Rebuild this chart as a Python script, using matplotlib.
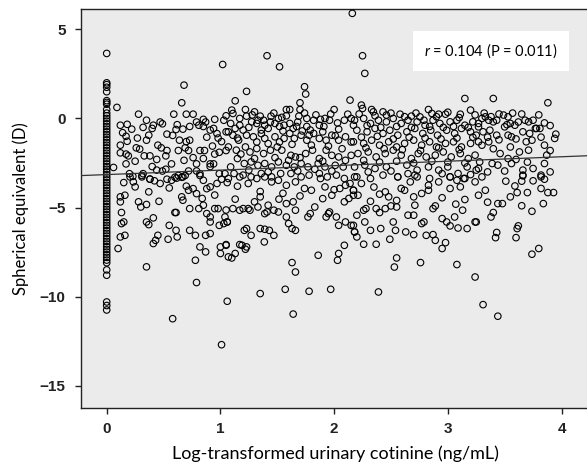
import numpy as np
import matplotlib
matplotlib.use("Agg")
import matplotlib.pyplot as plt

plt.rcParams['font.family'] = ['Lato', 'DejaVu Sans']
plt.rcParams['mathtext.fontset'] = 'custom'
plt.rcParams['mathtext.it'] = 'Lato:italic'
plt.rcParams['mathtext.rm'] = 'Lato'

# values
# subjects with cotinine of 0 (log value 0)
zero_se = [3.65, 2.0, 1.9, 1.75, 1.5, 1.0, 0.9, 0.8, 0.5,
           0.3, 0.15, 0.0, -0.15, -0.3, -0.45, -0.6, -0.75, -0.9, -1.05,
           -1.2, -1.35, -1.5, -1.65, -1.8, -1.95, -2.1, -2.25, -2.4, -2.55,
           -2.7, -2.85, -3.0, -3.15, -3.3, -3.45, -3.6, -3.75, -3.9, -4.05,
           -4.2, -4.35, -4.5, -4.65, -4.8, -4.95, -5.1, -5.25, -5.4, -5.55,
           -5.7, -5.85, -6.0, -6.15, -6.3, -6.45, -6.6, -6.75, -6.9, -7.05,
           -7.2, -7.35, -7.5, -7.65, -7.8, -7.95, -8.1, -8.5, -8.8,
           -10.3, -10.5, -10.75]

# cotinine 0 - 1.05
low = [(0.09, 0.62), (1.02, 3.03), (0.68, 1.87), (0.66, 0.88), (0.28, 0.24), (0.59, 0.24), (0.70, 0.24), (0.76, 0.24),
       (0.12, -0.38), (0.18, -0.33), (0.35, -0.10), (0.32, -0.50), (0.41, -0.38), (0.40, -0.56), (0.47, -0.20), (0.49, -0.30),
       (0.61, -0.62), (0.67, -0.60), (0.73, -0.45), (0.79, -0.20), (0.85, -0.05), (0.95, -0.05), (1.03, -0.10),
       (0.17, -1.00), (0.37, -0.94), (0.35, -1.22), (0.53, -0.88), (0.18, -1.28), (0.12, -1.50), (0.12, -1.93), (0.17, -2.00), (0.19, -2.10),
       (0.26, -1.65), (0.29, -1.72), (0.33, -2.10), (0.38, -2.10), (0.48, -1.65), (0.53, -1.80), (0.52, -2.10), (0.44, -2.30), (0.17, -2.55), (0.06, -2.75),
       (0.64, -1.22), (0.70, -1.30), (0.73, -1.22), (0.69, -1.65), (0.72, -1.80), (0.63, -1.80), (0.76, -2.20), (0.79, -2.55), (0.82, -1.80), (0.86, -1.80),
       (0.81, -0.38), (0.85, -0.45), (0.87, -0.20), (0.91, -0.65), (0.94, -0.56), (0.97, -0.85), (0.98, -1.10), (1.01, -1.30), (0.95, -2.00), (0.99, -1.90),
       (0.91, -2.55), (1.05, -1.80), (1.05, -0.75),
       (0.32, -3.10), (0.31, -3.20), (0.20, -3.10), (0.23, -3.25), (0.40, -2.70), (0.44, -2.90), (0.49, -2.95), (0.52, -2.85), (0.38, -3.40), (0.60, -3.30),
       (0.66, -3.30), (0.69, -3.20), (0.72, -2.95), (0.82, -3.10), (0.79, -2.95), (0.91, -2.70), (0.94, -2.55), (0.99, -3.10), (1.04, -3.10),
       (0.205, -3.28), (0.234, -3.56), (0.25, -3.84), (0.31, -3.28), (0.38, -3.41), (0.42, -3.50), (0.47, -3.65), (0.53, -3.41), (0.57, -3.47), (0.615, -3.35),
       (0.67, -3.28), (0.70, -3.80), (0.72, -4.03), (0.76, -3.94), (0.79, -4.22), (0.85, -3.47), (0.88, -3.94), (0.91, -3.84), (0.97, -3.65), (1.01, -3.41),
       (1.06, -3.60), (0.82, -3.20), (0.63, -3.20),
       (0.12, -4.40), (0.16, -4.31), (0.12, -4.68), (0.28, -4.68), (0.30, -4.97), (0.37, -4.12), (0.35, -4.83), (0.46, -4.65), (0.66, -4.40), (0.67, -4.59),
       (0.73, -5.06), (0.81, -5.06), (0.84, -4.49), (0.85, -4.87), (0.88, -5.34), (0.91, -5.53), (0.91, -5.81), (0.95, -5.06), (0.98, -5.06), (0.99, -6.00),
       (1.03, -5.90), (1.06, -5.81), (1.05, -5.14),
       (0.13, -5.28), (0.13, -5.90), (0.15, -5.81), (0.12, -6.65), (0.16, -6.56), (0.10, -7.30), (0.41, -5.58), (0.35, -5.81), (0.37, -5.96), (0.60, -5.28),
       (0.61, -5.28), (0.55, -6.00), (0.61, -6.28), (0.62, -6.65), (0.54, -6.78), (0.45, -6.56), (0.41, -7.02), (0.43, -6.84), (0.73, -6.28), (0.78, -6.56),
       (0.87, -6.56), (0.91, -6.46), (0.82, -7.21), (0.87, -7.49), (1.00, -7.21), (1.05, -7.12), (1.00, -7.58), (1.07, -7.77), (0.78, -7.96), (0.35, -8.33),
       (0.79, -9.21), (1.06, -10.26), (0.58, -11.24), (1.01, -12.70),
       (0.14, -0.80), (0.22, -0.60), (0.27, -1.10), (0.45, -1.50), (0.58, -0.95), (0.62, -0.35), (0.88, -1.05), (0.93, -1.55),
       (0.25, -2.40), (0.57, -2.55), (0.68, -2.35), (0.85, -2.25), (0.15, -3.60), (0.55, -3.90), (0.95, -4.30)]

# cotinine 1.05 - 2.2
mid = [(1.41, 3.52), (1.52, 2.90), (2.16, 5.90), (1.74, 1.78), (1.75, 1.37), (1.23, 1.52), (1.13, 0.99), (1.70, 0.88), (2.14, 1.03), (2.00, 0.50),
       (1.22, 0.50), (1.30, 0.37), (1.10, 0.47), (1.11, 0.28), (1.58, 0.50), (1.61, 0.50), (1.70, 0.50), (1.69, 0.13), (1.76, 0.00), (1.445, 0.13),
       (1.51, 0.00), (1.54, 0.06), (1.35, 0.13), (1.38, -0.10), (1.17, 0.00), (1.23, 0.13), (2.12, 0.24), (2.15, 0.00), (2.17, -0.38), (2.09, -0.10),
       (1.82, -0.10), (1.88, -0.05), (1.92, 0.00), (1.87, -0.38), (1.91, -0.45), (1.96, -0.10), (2.04, -0.60), (2.01, -0.97),
       (1.275, -0.19), (1.32, -0.28), (1.33, -0.10), (1.39, -0.38), (1.42, -0.56), (1.36, -0.65), (1.48, -0.28), (1.52, -0.45), (1.56, -0.38), (1.61, -0.28),
       (1.64, -0.56), (1.67, -0.45), (1.76, -0.45), (1.79, -0.65), (1.78, -0.94),
       (1.09, -0.28), (1.13, -0.56), (1.07, -0.75), (1.11, -0.94), (1.17, -0.38), (1.20, -0.65), (1.23, -0.94), (1.16, -1.22), (1.29, -1.03), (1.32, -1.32),
       (1.39, -1.12), (1.42, -1.41), (1.48, -1.03), (1.52, -1.32), (1.56, -1.12), (1.61, -0.84), (1.65, -1.12), (1.71, -0.94), (1.76, -1.22), (1.82, -0.84),
       (1.87, -1.12), (1.93, -1.22), (1.98, -0.94), (2.04, -1.22), (2.10, -1.03), (2.15, -1.32),
       (1.07, -1.60), (1.14, -1.78), (1.22, -1.60), (1.26, -1.88), (1.32, -1.69), (1.38, -1.97), (1.44, -1.78), (1.50, -1.60), (1.54, -1.78), (1.62, -2.07),
       (1.66, -2.16), (1.75, -1.97), (1.81, -1.78), (1.87, -2.25), (1.93, -1.78), (1.98, -2.07), (2.04, -2.16), (2.15, -2.07),
       (1.15, -2.25), (1.21, -2.53), (1.27, -2.44), (1.09, -2.72), (1.33, -2.63), (1.39, -2.53), (1.45, -2.72), (1.51, -2.44), (1.58, -2.63), (1.65, -2.72),
       (1.71, -2.53), (1.77, -2.72), (1.86, -2.53), (1.92, -2.72), (2.01, -2.63), (2.08, -2.72),
       (1.12, -3.09), (1.20, -3.18), (1.27, -3.28), (1.36, -3.09), (1.45, -3.28), (1.53, -3.09), (1.62, -3.09), (1.71, -3.28), (1.78, -3.18), (1.87, -3.09),
       (1.94, -3.28), (2.02, -3.18), (2.09, -3.37),
       (1.07, -3.37), (1.17, -3.28), (1.245, -3.65), (1.32, -3.37), (1.39, -3.28), (1.45, -3.56), (1.51, -3.47), (1.58, -3.75), (1.66, -3.56), (1.74, -3.93),
       (1.80, -4.03), (1.88, -3.37), (1.92, -3.84), (1.98, -4.31), (2.05, -3.93), (2.10, -3.75), (2.14, -3.65), (2.17, -4.03),
       (1.13, -4.53), (1.11, -5.06), (1.17, -5.15), (1.20, -5.06), (1.245, -5.06), (1.26, -5.15),
       (1.30, -4.68), (1.35, -4.40), (1.33, -4.97), (1.42, -4.87), (1.41, -5.25), (1.39, -5.34), (1.47, -5.15), (1.51, -5.25),
       (1.515, -4.53), (1.58, -4.78), (1.64, -4.68), (1.66, -5.15), (1.58, -5.53), (1.60, -5.90), (1.63, -6.18), (1.66, -6.28),
       (1.83, -4.97), (1.79, -5.34), (1.77, -5.53), (1.95, -5.34), (1.93, -5.53), (1.96, -5.25), (2.02, -5.53), (2.04, -6.00), (2.10, -5.81), (2.15, -6.00),
       (2.18, -6.37), (2.09, -4.68), (2.13, -4.49), (2.17, -4.31),
       (1.04, -5.53), (1.06, -5.81), (1.21, -6.28), (1.23, -6.18), (1.27, -6.56), (1.35, -6.18), (1.39, -6.22), (1.43, -6.28), (1.47, -6.56), (1.386, -6.93),
       (1.17, -7.08), (1.19, -7.12), (1.23, -7.21), (1.22, -7.34), (1.05, -7.08), (1.13, -7.58), (1.10, -7.83), (1.86, -7.68), (2.09, -7.12), (2.04, -7.58),
       (2.03, -7.96), (1.63, -8.09), (1.66, -8.62), (1.35, -9.83), (1.57, -9.59), (1.78, -9.70), (1.97, -9.59), (1.64, -10.98),
       (1.05, 0.15), (1.15, -1.10), (1.25, -0.50), (1.28, 0.20), (1.36, -0.85), (1.44, -0.20), (1.47, 0.30), (1.55, -0.70), (1.58, 0.15), (1.63, -1.45),
       (1.68, -0.20), (1.72, -0.70), (1.74, 0.30), (1.80, -1.50), (1.84, 0.20), (1.90, -0.75), (1.95, -1.55), (1.97, 0.25), (2.03, -0.25), (2.07, -1.70),
       (1.18, -2.00), (1.30, -2.25), (1.48, -2.20), (1.60, -2.35), (1.70, -2.20), (1.90, -2.40), (2.10, -2.35), (1.25, -2.90), (1.42, -3.00), (1.68, -2.95),
       (1.83, -2.85), (1.98, -2.95), (1.15, -3.80), (1.35, -4.10), (1.55, -4.20), (1.70, -4.35), (1.90, -4.50), (2.00, -4.00)]

# cotinine 2.2 - 3.3
upper = [(2.25, 3.52), (2.27, 2.53), (3.15, 1.12), (2.24, 0.75), (2.25, 0.56), (2.33, 0.50), (2.345, 0.37), (2.83, 0.50), (2.86, 0.28), (2.92, 0.24),
         (2.98, 0.24), (3.11, 0.24), (3.20, 0.47), (2.43, 0.37), (2.46, 0.19), (2.58, 0.24), (2.68, 0.13), (2.755, 0.09),
         (2.18, -0.10), (2.26, 0.00), (2.32, -0.28), (2.39, -0.10), (2.46, -0.19), (2.52, 0.00), (2.59, -0.28), (2.65, -0.10), (2.73, -0.19), (2.80, -0.38),
         (2.87, -0.10), (2.93, -0.28), (3.02, -0.19), (3.08, -0.10), (3.15, -0.38), (3.22, -0.19), (3.27, -0.28),
         (2.20, -0.66), (2.29, -0.75), (2.36, -0.56), (2.43, -0.84), (2.49, -0.66), (2.56, -0.94), (2.64, -0.75), (2.71, -0.56), (2.78, -0.84), (2.85, -0.66),
         (2.91, -0.94), (2.99, -0.66), (3.06, -0.84), (3.12, -0.56), (3.20, -0.75), (3.25, -0.94),
         (2.17, -1.31), (2.26, -1.40), (2.33, -1.22), (2.40, -1.50), (2.48, -1.31), (2.55, -1.60), (2.62, -1.40), (2.70, -1.22), (2.77, -1.50), (2.84, -1.31),
         (2.90, -1.60), (2.98, -1.40), (3.05, -1.31), (3.12, -1.60), (3.20, -1.40), (3.27, -1.31),
         (2.21, -1.97), (2.30, -1.88), (2.37, -2.16), (2.45, -1.97), (2.52, -1.78), (2.59, -2.06), (2.68, -2.25), (2.74, -1.97), (2.81, -2.16), (2.89, -2.06),
         (2.96, -1.88), (3.03, -2.16), (3.11, -1.97), (3.18, -2.25), (3.24, -2.06),
         (2.18, -2.72), (2.27, -2.62), (2.36, -2.81), (2.46, -2.72), (2.56, -3.28), (2.64, -2.62), (2.73, -2.90), (2.71, -3.18), (2.83, -2.72), (2.92, -2.90),
         (3.00, -2.72), (3.09, -3.09), (3.17, -2.72), (3.25, -2.90),
         (2.20, -3.28), (2.32, -3.37), (2.43, -3.18), (2.84, -3.37), (3.02, -3.28), (3.14, -3.37),
         (2.18, -3.28), (2.24, -3.65), (2.17, -4.03), (2.21, -4.31), (2.45, -4.12), (2.48, -4.40), (2.56, -3.28), (2.59, -3.93), (2.62, -4.03), (2.67, -3.56),
         (2.73, -3.28), (2.77, -4.21), (2.83, -3.75), (2.83, -4.03), (2.92, -3.56), (3.02, -3.28), (3.02, -3.93), (3.08, -3.47), (3.11, -3.84), (3.15, -3.37),
         (3.24, -3.56), (3.27, -4.31),
         (2.32, -4.65), (2.28, -5.06), (2.26, -5.15), (2.20, -5.43), (2.27, -5.81), (2.37, -5.06), (2.40, -5.28), (2.45, -5.06), (2.50, -4.91), (2.55, -4.97),
         (2.17, -6.00), (2.18, -6.37), (2.20, -6.65), (2.26, -7.06), (2.37, -7.06), (2.32, -6.28), (2.41, -6.18), (2.49, -6.78),
         (2.52, -5.81), (2.54, -6.28), (2.63, -6.37), (2.70, -6.52), (2.65, -5.43), (2.70, -5.43), (2.71, -4.87), (2.77, -5.90), (2.79, -5.81),
         (2.87, -5.06), (2.89, -4.91), (2.81, -6.56), (2.87, -6.52), (2.89, -6.84),
         (2.95, -5.62), (2.99, -5.81), (3.02, -6.03), (3.06, -5.53), (3.07, -4.81), (3.13, -5.15), (3.09, -6.15), (3.17, -6.18), (3.24, -5.81),
         (2.98, -6.97), (2.95, -7.30), (2.55, -7.83), (2.53, -8.34), (2.76, -8.09), (3.08, -8.20), (3.24, -8.90), (2.39, -9.74),
         (2.22, 0.25), (2.29, -0.40), (2.36, 0.15), (2.41, -0.50), (2.50, 0.30), (2.55, -0.45), (2.62, 0.10), (2.68, -0.50), (2.72, 0.30), (2.79, -0.10),
         (2.84, -0.45), (2.90, 0.10), (2.96, -0.50), (3.00, 0.35), (3.05, -0.45), (3.10, 0.05), (3.18, -0.50), (3.24, 0.20),
         (2.24, -1.05), (2.38, -1.00), (2.52, -1.15), (2.66, -1.05), (2.80, -1.10), (2.94, -1.15), (3.08, -1.10), (3.22, -1.05),
         (2.28, -1.65), (2.44, -1.70), (2.60, -1.75), (2.76, -1.80), (2.92, -1.65), (3.10, -1.75),
         (2.26, -2.35), (2.40, -2.45), (2.55, -2.40), (2.70, -2.50), (2.86, -2.40), (3.00, -2.45), (3.15, -2.50),
         (2.30, -3.00), (2.50, -2.95), (2.65, -3.10), (2.95, -3.10), (3.20, -3.15),
         (2.35, -3.85), (2.55, -4.60), (2.70, -4.40), (2.95, -4.45), (3.15, -4.55), (2.40, -4.25)]

# cotinine above 3.25
high = [(3.40, 1.12), (3.88, 0.88),
        (3.30, 0.00), (3.33, 0.09), (3.36, -0.10), (3.40, -0.19), (3.43, -0.10), (3.49, 0.19), (3.53, 0.09), (3.55, -0.28), (3.59, -0.38), (3.68, -0.10),
        (3.71, -0.19), (3.77, -0.56), (3.81, -0.56), (3.85, -0.25), (3.95, -0.88), (3.94, -1.12), (3.85, -1.50), (3.87, -2.06), (3.85, -2.53),
        (3.27, -0.47), (3.31, -0.75), (3.37, -0.66), (3.43, -0.94), (3.50, -0.47), (3.53, -0.94), (3.56, -1.03), (3.66, -0.75), (3.72, -0.84), (3.74, -1.22),
        (3.69, -1.31), (3.78, -0.56), (3.63, -1.88), (3.71, -1.78),
        (3.30, -1.50), (3.36, -1.31), (3.46, -1.97), (3.55, -1.60), (3.53, -2.25), (3.44, -2.62), (3.39, -2.53), (3.28, -2.44), (3.27, -2.81), (3.56, -2.53),
        (3.66, -2.90), (3.75, -2.81), (3.82, -3.18), (3.66, -3.18),
        (3.30, -3.28), (3.33, -4.03), (3.51, -3.52), (3.59, -3.79), (3.61, -4.16), (3.65, -3.52), (3.66, -3.22), (3.70, -4.16), (3.82, -3.28), (3.85, -3.41),
        (3.82, -3.93), (3.88, -4.16), (3.93, -4.16), (3.84, -4.78), (3.74, -5.21),
        (3.44, -4.78), (3.48, -4.78), (3.40, -5.28), (3.38, -5.53), (3.25, -5.81), (3.43, -6.40), (3.42, -6.69), (3.62, -6.03), (3.61, -6.18), (3.60, -6.69),
        (3.80, -7.30), (3.74, -7.62), (3.31, -10.45), (3.44, -11.10),
        (3.32, 0.30), (3.38, 0.10), (3.45, 0.25), (3.52, -0.35), (3.57, 0.30), (3.62, -0.20), (3.65, 0.25), (3.75, -0.10), (3.80, 0.20), (3.90, -0.40),
        (3.35, -1.05), (3.45, -1.20), (3.60, -1.15), (3.82, -1.05), (3.40, -1.70), (3.60, -2.30), (3.70, -2.45), (3.90, -1.80),
        (3.35, -3.00), (3.50, -2.95), (3.75, -3.50), (3.90, -3.00), (3.55, -4.40), (3.65, -4.90), (3.35, -4.70)]

# fitted line
intercept = -3.15
slope = 0.25
label = '$r$ = 0.104 (P = 0.011)'

pts = np.array(low + mid + upper + high)
cot = np.concatenate([np.zeros(len(zero_se)), pts[:, 0]])
se = np.concatenate([np.array(zero_se), pts[:, 1]])

fig = plt.figure(figsize=(5.87, 4.71), dpi=100)
ax = fig.add_axes([0.138, 0.1331, 0.867, 0.8484])
ax.set_facecolor('#ebebeb')

ax.scatter(cot, se, s=22, facecolors='none', edgecolors='black', linewidths=0.8, zorder=3)

xmin, xmax = -0.226, 4.25
xx = np.array([xmin, xmax])
ax.plot(xx, intercept + slope * xx, color='#333333', lw=0.9, zorder=4)

ax.set_xlim(xmin, xmax)
ax.set_ylim(-16.27, 6.16)
ax.set_xticks([0, 1, 2, 3, 4])
ax.set_yticks([5, 0, -5, -10, -15])

ax.text(3.38, 3.78, label, ha='center', va='center', fontsize=10.5, zorder=5,
        bbox=dict(facecolor='white', edgecolor='none', boxstyle='square,pad=0.75'))

for s in ax.spines.values():
    s.set_color('#222222')
    s.set_linewidth(1.0)
ax.tick_params(axis='both', direction='out', length=4, width=1, color='#222222', labelsize=11)
ax.tick_params(axis='x', pad=6)
ax.tick_params(axis='y', pad=7)
for t in ax.get_xticklabels() + ax.get_yticklabels():
    t.set_family(['Liberation Sans', 'DejaVu Sans'])
    t.set_weight('bold')
    t.set_color('#222222')

ax.set_xlabel('Log-transformed urinary cotinine (ng/mL)', fontsize=13, labelpad=7)
ax.set_ylabel('Spherical equivalent (D)', fontsize=12, labelpad=8)

fig.savefig('out.png', dpi=100)
